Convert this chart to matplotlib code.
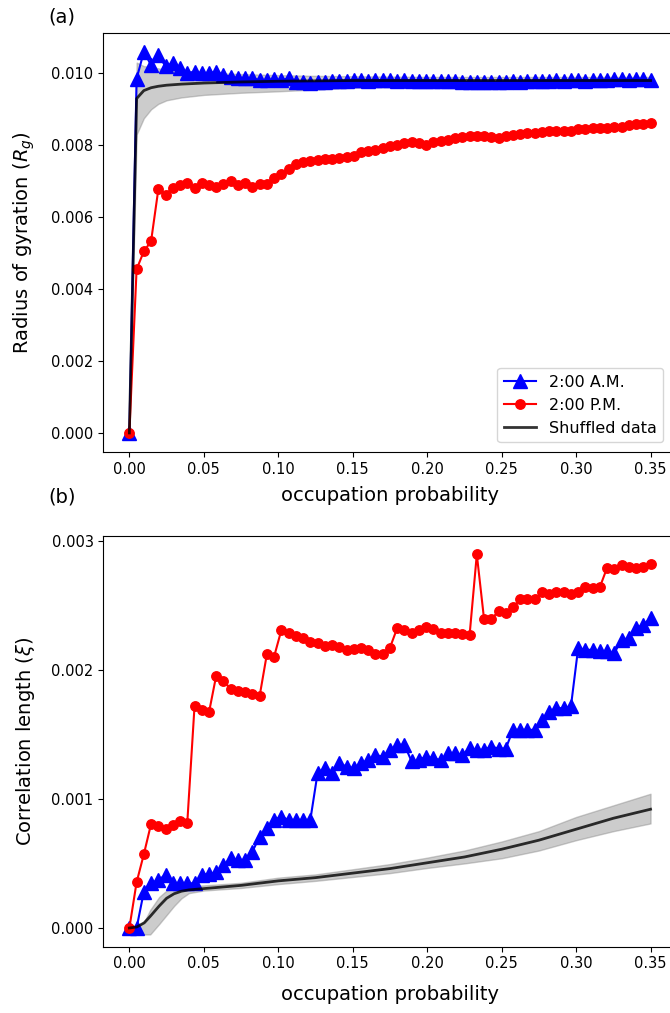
import numpy as np
import matplotlib
matplotlib.use("Agg")
import matplotlib.pyplot as plt

# ---------------- data ----------------
occ_prob = np.round(np.arange(73) * 0.35 / 72, 5)

rg_am = [0.0, 0.00985, 0.0106, 0.01023, 0.0105, 0.0102, 0.01028, 0.01014, 0.0100, 0.01005,
         0.0100, 0.0100, 0.01005, 0.00995, 0.00991, 0.00986, 0.00986, 0.00986, 0.00981, 0.00981,
         0.00983, 0.00981, 0.00986, 0.00977, 0.00977, 0.00974, 0.00976, 0.00975, 0.00978, 0.0098,
         0.0098, 0.00981, 0.00982, 0.0098, 0.00982, 0.00981, 0.00981, 0.0098, 0.00981, 0.0098,
         0.0098, 0.00979, 0.0098, 0.00978, 0.00978, 0.00979, 0.00976, 0.00976, 0.00975, 0.00975,
         0.00976, 0.00975, 0.00977, 0.00978, 0.00977, 0.00979, 0.0098, 0.0098, 0.0098, 0.00981,
         0.0098, 0.00981, 0.00981, 0.0098, 0.00981, 0.00982, 0.00981, 0.00983, 0.00984, 0.00982,
         0.00984, 0.00983, 0.00981]

rg_pm = [0.0, 0.00455, 0.00505, 0.00533, 0.00677, 0.00663, 0.00682, 0.00689, 0.00696, 0.00682,
         0.00696, 0.00689, 0.00684, 0.00691, 0.00700, 0.00689, 0.00694, 0.00684, 0.00691, 0.00691,
         0.00708, 0.00719, 0.00733, 0.00747, 0.00753, 0.00756, 0.00760, 0.00762, 0.00763, 0.00764,
         0.00767, 0.00770, 0.00782, 0.00785, 0.00788, 0.00793, 0.00798, 0.00802, 0.00807, 0.00810,
         0.00807, 0.00802, 0.00810, 0.00813, 0.00816, 0.00819, 0.00823, 0.00825, 0.00825, 0.00825,
         0.00823, 0.00821, 0.00825, 0.00828, 0.00830, 0.00834, 0.00834, 0.00838, 0.00839, 0.00839,
         0.00839, 0.00840, 0.00844, 0.00844, 0.00847, 0.00849, 0.00849, 0.00850, 0.00851, 0.00855,
         0.00858, 0.00860, 0.00862]

xi_am = [0.0, 0.0, 0.000281, 0.000346, 0.000372, 0.000411, 0.000346, 0.000346, 0.000346, 0.000346,
         0.000411, 0.00042, 0.00043, 0.000488, 0.00054, 0.000527, 0.000527, 0.000592, 0.000708, 0.000773,
         0.000837, 0.000863, 0.000837, 0.000837, 0.000837, 0.000837, 0.001199, 0.001238, 0.0012, 0.001277,
         0.00125, 0.001238, 0.001277, 0.0013, 0.00134, 0.001328, 0.00138, 0.001419, 0.001419, 0.00129,
         0.0013, 0.001328, 0.001315, 0.0013, 0.001354, 0.001354, 0.00134, 0.001393, 0.00138, 0.00138,
         0.001405, 0.00139, 0.00139, 0.001535, 0.001535, 0.001535, 0.001535, 0.001612, 0.001677, 0.001703,
         0.001703, 0.001716, 0.002168, 0.002155, 0.002155, 0.002142, 0.002142, 0.00213, 0.002233, 0.002245,
         0.002323, 0.002349, 0.0024]

xi_pm = [0.0, 0.000354, 0.000571, 0.000806, 0.000791, 0.00077, 0.000796, 0.000829, 0.000814, 0.001716,
         0.00169, 0.00167, 0.001955, 0.001912, 0.001853, 0.001837, 0.00183, 0.001816, 0.001798, 0.002122,
         0.002103, 0.002308, 0.002284, 0.002261, 0.002243, 0.002215, 0.002205, 0.002184, 0.00219, 0.002177,
         0.002153, 0.002165, 0.002171, 0.002153, 0.002126, 0.002126, 0.002171, 0.002323, 0.002308, 0.002284,
         0.002305, 0.002331, 0.002318, 0.002287, 0.002287, 0.002284, 0.002275, 0.002267, 0.002894, 0.002393,
         0.002395, 0.002452, 0.002442, 0.002483, 0.00255, 0.002548, 0.002548, 0.002599, 0.002584, 0.002599,
         0.002599, 0.002584, 0.002602, 0.002643, 0.002636, 0.002641, 0.002791, 0.002778, 0.002812, 0.002796,
         0.002791, 0.002796, 0.002819]

# shuffled data (mean and band), panel (a)
shuf_x_a = [0.0, 0.0049, 0.0097, 0.0146, 0.0194, 0.025, 0.035, 0.05, 0.075, 0.1, 0.125, 0.15,
            0.2, 0.25, 0.3, 0.35]
shuf_rg_mean = [0.0, 0.0093, 0.00952, 0.0096, 0.00964, 0.00967, 0.0097, 0.00973, 0.00976, 0.00978,
                0.00979, 0.0098, 0.0098, 0.0098, 0.0098, 0.0098]
shuf_rg_lo = [0.0, 0.0083, 0.00875, 0.0090, 0.00915, 0.00925, 0.00933, 0.0094, 0.00946, 0.0095,
              0.00955, 0.0096, 0.00964, 0.00967, 0.00969, 0.0097]
shuf_rg_hi = [0.0, 0.0103, 0.0102, 0.01018, 0.01014, 0.0101, 0.01006, 0.01002, 0.00998, 0.00995,
              0.00993, 0.00992, 0.0099, 0.0099, 0.0099, 0.0099]

# shuffled data (mean and band), panel (b)
shuf_x_b = [0.0, 0.005, 0.01, 0.014, 0.02, 0.025, 0.03, 0.035, 0.04, 0.05, 0.075, 0.1, 0.125,
            0.15, 0.175, 0.2, 0.225, 0.25, 0.275, 0.3, 0.325, 0.35]
shuf_xi_mean = [0.0, 0.000008, 0.00004, 0.00009, 0.00017, 0.00023, 0.000265, 0.000285, 0.000295,
                0.000305, 0.00033, 0.000365, 0.00039, 0.000425, 0.00046, 0.000505, 0.00055, 0.00061,
                0.00068, 0.000765, 0.00085, 0.00092]
shuf_xi_lo = [0.0, -0.00004, -0.00005, -0.00005, 0.00003, 0.0001, 0.00017, 0.00023, 0.00027,
              0.00029, 0.00031, 0.00034, 0.000365, 0.000395, 0.000425, 0.000465, 0.0005, 0.00054,
              0.0006, 0.00068, 0.00075, 0.00081]
shuf_xi_hi = [0.0, 0.00001, 0.00005, 0.00014, 0.00024, 0.00029, 0.00031, 0.00032, 0.000325,
              0.00033, 0.00035, 0.00039, 0.000415, 0.000455, 0.000495, 0.000545, 0.0006, 0.00067,
              0.00075, 0.00086, 0.00095, 0.00104]

x_ticks = [0.00, 0.05, 0.10, 0.15, 0.20, 0.25, 0.30, 0.35]
x_ticklabels = ["0.00", "0.05", "0.10", "0.15", "0.20", "0.25", "0.30", "0.35"]
rg_ticks = [0.000, 0.002, 0.004, 0.006, 0.008, 0.010]
xi_ticks = [0.000, 0.001, 0.002, 0.003]

# ---------------- figure ----------------
W, H = 670, 1013
fig = plt.figure(figsize=(W / 100, H / 100), dpi=100)

left = 103.3 / W
width = (676.6 - 103.3) / W
ax1 = fig.add_axes([left, (H - 452.0) / H, width, (452.0 - 32.7) / H])
ax2 = fig.add_axes([left, (H - 946.7) / H, width, (946.7 - 535.7) / H])

TICK_FS = 10.5
LABEL_FS = 14

# panel (a)
ax1.fill_between(shuf_x_a, shuf_rg_lo, shuf_rg_hi, color="gray", alpha=0.4, zorder=1)
ax1.plot(occ_prob, rg_am, color="blue", marker="^", markersize=9.5, lw=1.5, label="2:00 A.M.", zorder=2)
ax1.plot(occ_prob, rg_pm, color="red", marker="o", markersize=6.8, lw=1.5, label="2:00 P.M.", zorder=2)
ax1.plot(shuf_x_a, shuf_rg_mean, color="k", alpha=0.8, lw=2, label="Shuffled data", zorder=3)
ax1.set_xlim(-0.0175, 0.3675)
ax1.set_ylim(-0.00053, 0.01113)
ax1.set_yticks(rg_ticks)
ax1.set_xticks(x_ticks)
ax1.set_xticklabels(x_ticklabels)
ax1.tick_params(labelsize=TICK_FS)
ax1.set_xlabel("occupation probability", fontsize=LABEL_FS, labelpad=7)
ax1.set_ylabel("Radius of gyration ($R_g$)", fontsize=LABEL_FS, labelpad=10)
ax1.legend(loc="lower right", bbox_to_anchor=(0.976, 0.024), borderaxespad=0, fontsize=11.5)

# panel (b)
ax2.fill_between(shuf_x_b, shuf_xi_lo, shuf_xi_hi, color="gray", alpha=0.4, zorder=1)
ax2.plot(occ_prob, xi_am, color="blue", marker="^", markersize=9.5, lw=1.5, zorder=2)
ax2.plot(occ_prob, xi_pm, color="red", marker="o", markersize=6.8, lw=1.5, zorder=2)
ax2.plot(shuf_x_b, shuf_xi_mean, color="k", alpha=0.8, lw=2, zorder=3)
ax2.set_xlim(-0.0175, 0.3675)
ax2.set_ylim(-0.000145, 0.003039)
ax2.set_yticks(xi_ticks)
ax2.set_xticks(x_ticks)
ax2.set_xticklabels(x_ticklabels)
ax2.tick_params(labelsize=TICK_FS)
ax2.set_xlabel("occupation probability", fontsize=LABEL_FS, labelpad=10)
ax2.set_ylabel("Correlation length ($\\xi$)", fontsize=LABEL_FS, labelpad=10)

fig.text(62 / W, 1 - 17 / H, "(a)", fontsize=LABEL_FS, ha="center", va="center")
fig.text(62 / W, 1 - 497 / H, "(b)", fontsize=LABEL_FS, ha="center", va="center")

fig.savefig("out.png", dpi=100)
